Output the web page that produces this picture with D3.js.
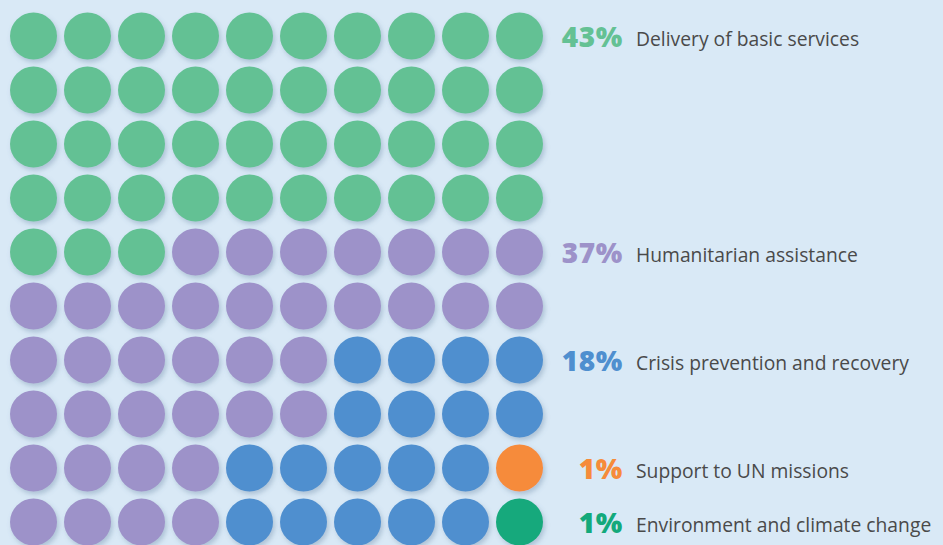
<!DOCTYPE html>
<html>
<head>
<meta charset="utf-8">
<script src="https://cdn.jsdelivr.net/npm/d3@7"></script>
<style>
  html, body { margin: 0; padding: 0; background: #d9e9f6; }
  svg { display: block; }
</style>
</head>
<body>
<div id="chart"></div>
<script>
var svgWidth = 943;
var svgHeight = 545;

// categories and their shares (%)
var codes = ["D", "H", "C", "S", "E"];
var categories = ["Delivery of basic services", "Humanitarian assistance",
  "Crisis prevention and recovery", "Support to UN missions",
  "Environment and climate change"];
var shares = [43, 37, 18, 1, 1];
var colors = ["#64c194", "#9d92c9", "#4f8fcf", "#f68b3a", "#13a97b"];

// waffle layout, one string per row
var gridRows = [
  "DDDDDDDDDD",
  "DDDDDDDDDD",
  "DDDDDDDDDD",
  "DDDDDDDDDD",
  "DDDHHHHHHH",
  "HHHHHHHHHH",
  "HHHHHHCCCC",
  "HHHHHHCCCC",
  "HHHHCCCCCS",
  "HHHHCCCCCE"
];

var svg = d3.select("#chart").append("svg")
  .attr("width", svgWidth)
  .attr("height", svgHeight);

svg.append("rect")
  .attr("width", svgWidth)
  .attr("height", svgHeight)
  .attr("fill", "#d9e9f6");

// soft shadow under each dot
var defs = svg.append("defs");
defs.append("filter")
  .attr("id", "shadow")
  .attr("x", "-30%").attr("y", "-30%")
  .attr("width", "170%").attr("height", "170%")
  .append("feDropShadow")
  .attr("dx", 2)
  .attr("dy", 3)
  .attr("stdDeviation", 2.5)
  .attr("flood-color", "#5a7898")
  .attr("flood-opacity", 0.35);

var xScale = d3.scalePoint().domain(d3.range(10)).range([33.5, 519.5]);
var yScale = d3.scalePoint().domain(d3.range(10)).range([36, 522]);
var color = d3.scaleOrdinal().domain(codes).range(colors);

var cells = [];
gridRows.forEach(function(row, r) {
  row.split("").forEach(function(code, c) {
    cells.push({ row: r, col: c, code: code });
  });
});

svg.append("g")
  .selectAll("circle")
  .data(cells)
  .enter()
  .append("circle")
  .attr("cx", d => xScale(d.col))
  .attr("cy", d => yScale(d.row))
  .attr("r", 23.5)
  .attr("fill", d => color(d.code))
  .attr("filter", "url(#shadow)");

// labels sit on the first row where the category appears
var labels = codes.map(function(code, i) {
  var firstRow = gridRows.findIndex(row => row.indexOf(code) >= 0);
  return { code: code, name: categories[i], share: shares[i], row: firstRow };
});

var labelGroup = svg.append("g");

labelGroup.selectAll("text.pct")
  .data(labels)
  .enter()
  .append("text")
  .attr("class", "pct")
  .attr("x", 623)
  .attr("y", d => yScale(d.row) + 11)
  .attr("text-anchor", "end")
  .attr("font-family", "Open Sans")
  .attr("font-weight", 800)
  .attr("font-size", "28px")
  .attr("letter-spacing", "0.6px")
  .attr("fill", d => color(d.code))
  .text(d => d.share + "%");

labelGroup.selectAll("text.name")
  .data(labels)
  .enter()
  .append("text")
  .attr("class", "name")
  .attr("x", 636)
  .attr("y", d => yScale(d.row) + 10)
  .attr("font-family", "Open Sans")
  .attr("font-size", "19.3px")
  .attr("fill", "#4a4a4a")
  .text(d => d.name);
</script>
</body>
</html>
